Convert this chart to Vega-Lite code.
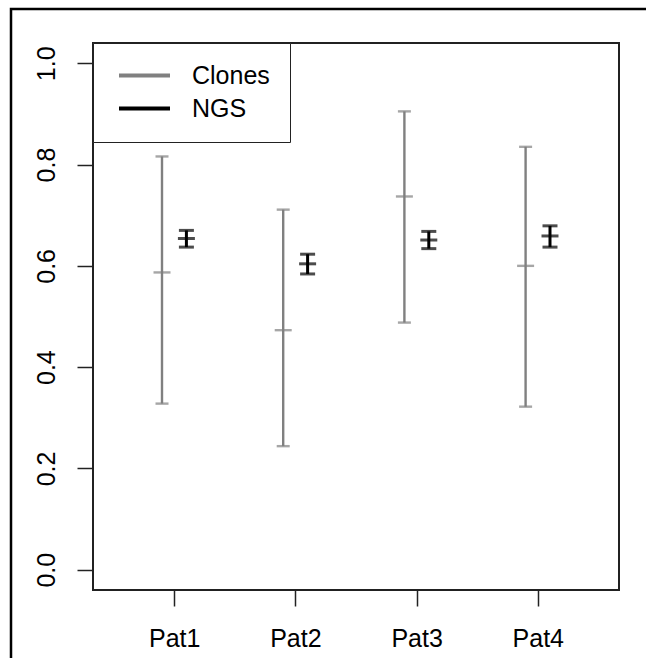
{
  "$schema": "https://vega.github.io/schema/vega-lite/v6.json",
  "width": 635,
  "height": 649,
  "autosize": {"type": "none"},
  "padding": {"left": 11, "top": 9, "right": 0, "bottom": 0},
  "background": "white",
  "data": {
    "values": [
      {"patient": "Pat1", "source": "Clones", "lo": 0.328, "mid": 0.587, "hi": 0.816},
      {"patient": "Pat2", "source": "Clones", "lo": 0.244, "mid": 0.473, "hi": 0.711},
      {"patient": "Pat3", "source": "Clones", "lo": 0.488, "mid": 0.737, "hi": 0.905},
      {"patient": "Pat4", "source": "Clones", "lo": 0.322, "mid": 0.600, "hi": 0.835},
      {"patient": "Pat1", "source": "NGS", "lo": 0.637, "mid": 0.654, "hi": 0.670},
      {"patient": "Pat2", "source": "NGS", "lo": 0.584, "mid": 0.604, "hi": 0.623},
      {"patient": "Pat3", "source": "NGS", "lo": 0.634, "mid": 0.651, "hi": 0.668},
      {"patient": "Pat4", "source": "NGS", "lo": 0.637, "mid": 0.659, "hi": 0.679}
    ]
  },
  "resolve": {"scale": {"x": "independent"}, "axis": {"x": "independent"}},
  "layer": [
    {
      "mark": {"type": "rect", "fill": "white", "fillOpacity": 0, "stroke": "#222", "strokeWidth": 1.5},
      "encoding": {
        "x": {"datum": 0, "type": "quantitative", "scale": {"domain": [0, 1], "range": [82, 608], "nice": false, "zero": false}, "axis": null},
        "x2": {"datum": 1},
        "y": {"datum": -0.04, "type": "quantitative", "scale": {"domain": [-0.04, 1.04], "range": [581, 34], "nice": false, "zero": false}},
        "y2": {"datum": 1.04}
      }
    },
    {
      "encoding": {
        "x": {
          "field": "patient", "type": "nominal",
          "scale": {"type": "point", "domain": ["Pat1", "Pat2", "Pat3", "Pat4"], "range": [82, 608], "padding": 0.67},
          "axis": {
            "title": null, "orient": "bottom", "offset": -68, "domain": false, "grid": false,
            "tickSize": 16, "tickWidth": 1.5, "tickColor": "#222", "labelAngle": 0,
            "labelFont": "Liberation Sans", "labelFontSize": 25, "labelColor": "black", "labelPadding": 20
          }
        },
        "xOffset": {"field": "source", "type": "nominal", "scale": {"type": "point", "domain": ["Clones", "NGS"], "range": [-12.2, 12.2], "padding": 0}},
        "y": {
          "field": "lo", "type": "quantitative",
          "scale": {"domain": [-0.04, 1.04], "range": [581, 34], "nice": false, "zero": false},
          "axis": {
            "title": null, "orient": "left", "offset": -82, "domain": false, "grid": false,
            "values": [0, 0.2, 0.4, 0.6, 0.8, 1.0], "format": ".1f",
            "tickSize": 16, "tickWidth": 1.5, "tickColor": "#222",
            "labelAngle": -90, "labelAlign": "center", "labelBaseline": "bottom",
            "labelFont": "Liberation Sans", "labelFontSize": 25, "labelColor": "black", "labelPadding": 18
          }
        }
      },
      "layer": [
        {
          "transform": [{"filter": "datum.source === 'Clones'"}],
          "mark": {"type": "rule", "strokeWidth": 2.4},
          "encoding": {
            "y2": {"field": "hi"},
            "color": {
              "field": "source", "type": "nominal",
              "scale": {"domain": ["Clones", "NGS"], "range": ["#808080", "#000000"]},
              "legend": {
                "title": null, "orient": "none", "legendX": 82, "legendY": 34,
                "strokeColor": "#222", "fillColor": "white", "padding": 20,
                "symbolType": "stroke", "symbolSize": 2601, "symbolStrokeWidth": 4, "symbolOffset": 4,
                "clipHeight": 25,
                "labelFont": "Liberation Sans", "labelFontSize": 25, "labelColor": "black",
                "labelOffset": 20, "rowPadding": 7
              }
            }
          }
        },
        {
          "transform": [{"filter": "datum.source === 'NGS'"}],
          "mark": {"type": "rule", "strokeWidth": 3},
          "encoding": {
            "y2": {"field": "hi"},
            "color": {"field": "source", "type": "nominal"}
          }
        },
        {
          "transform": [{"filter": "datum.source === 'Clones'"}, {"fold": ["lo", "hi"], "as": ["end", "val"]}],
          "mark": {"type": "tick", "size": 13, "thickness": 2.4, "color": "#808080"},
          "encoding": {"y": {"field": "val", "type": "quantitative"}}
        },
        {
          "transform": [{"filter": "datum.source === 'Clones'"}],
          "mark": {"type": "tick", "size": 17, "thickness": 2.4, "color": "#808080"},
          "encoding": {"y": {"field": "mid", "type": "quantitative"}}
        },
        {
          "transform": [{"filter": "datum.source === 'NGS'"}, {"fold": ["lo", "hi"], "as": ["end", "val"]}],
          "mark": {"type": "tick", "size": 15, "thickness": 3, "color": "#000000"},
          "encoding": {"y": {"field": "val", "type": "quantitative"}}
        },
        {
          "transform": [{"filter": "datum.source === 'NGS'"}],
          "mark": {"type": "tick", "size": 17, "thickness": 3, "color": "#000000"},
          "encoding": {"y": {"field": "mid", "type": "quantitative"}}
        }
      ]
    }
  ],
  "config": {
    "view": {"stroke": "black", "strokeWidth": 2.5, "strokeDash": [635, 1284, 649]},
    "font": "Liberation Sans"
  }
}
